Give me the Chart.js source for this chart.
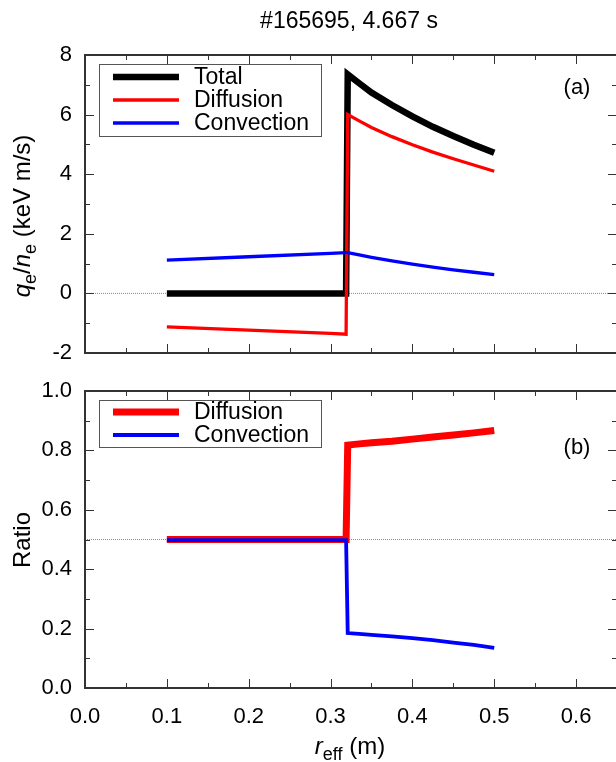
<!DOCTYPE html>
<html><head><meta charset="utf-8">
<script src="https://cdn.jsdelivr.net/npm/chart.js@4/dist/chart.umd.min.js"></script>
<style>
html,body{margin:0;padding:0;background:#fff;overflow:hidden;width:616px;height:762px;}
#wrap{position:relative;width:616px;height:762px;overflow:hidden;background:#fff;}
canvas{position:absolute;left:0;top:0;}
</style></head><body>
<div id="wrap"><canvas id="c1" width="620" height="762"></canvas><canvas id="c2" width="620" height="762"></canvas></div>
<script>
const FONT = '"Liberation Sans", Arial, Helvetica, sans-serif';

// ---- data ----
const rEff = [0.1, 0.2, 0.3, 0.319, 0.321, 0.335, 0.35, 0.375, 0.4, 0.425, 0.45, 0.475, 0.5];
const fluxTotal      = [0, 0, 0, 0, 7.35, 7.05, 6.74, 6.32, 5.94, 5.59, 5.28, 4.99, 4.72];
const fluxDiffusion  = [-1.12, -1.23, -1.34, -1.37, 6.00, 5.79, 5.57, 5.26, 4.99, 4.74, 4.52, 4.31, 4.10];
const fluxConvection = [1.12, 1.23, 1.34, 1.37, 1.37, 1.29, 1.21, 1.09, 0.98, 0.88, 0.79, 0.71, 0.63];
const ratioDiffusion  = [0.5, 0.5, 0.5, 0.5, 0.818, 0.822, 0.826, 0.831, 0.838, 0.845, 0.852, 0.859, 0.867];
const ratioConvection = [0.498, 0.498, 0.498, 0.498, 0.185, 0.182, 0.179, 0.174, 0.168, 0.161, 0.153, 0.145, 0.135];
const xRange = [0, 0.65];
const yRangeA = [-2, 8];
const yRangeB = [0, 1];
const titleText = '#165695, 4.667 s';

function pts(ys){ return rEff.map((r,i)=>({x:r, y:ys[i]})); }

function isMajor(v, unit){ const k = v/unit; return Math.abs(k - Math.round(k)) < 1e-6; }

const framePlugin = {
  id:'frame',
  afterDatasetsDraw(chart, args, o){
    const {ctx, chartArea:a, scales} = chart;
    ctx.save();
    ctx.strokeStyle = '#333'; ctx.lineWidth = 1;
    const ln=(x1,y1,x2,y2)=>{ctx.beginPath();ctx.moveTo(x1,y1);ctx.lineTo(x2,y2);ctx.stroke();};
    scales.x.ticks.forEach(t=>{
      const p = Math.round(scales.x.getPixelForValue(t.value))+0.5;
      const L = isMajor(t.value, o.xMajor) ? 9 : 5;
      ln(p, a.bottom, p, a.bottom-L); ln(p, a.top, p, a.top+L);
    });
    scales.y.ticks.forEach(t=>{
      const p = Math.round(scales.y.getPixelForValue(t.value))+0.5;
      const L = isMajor(t.value, o.yMajor) ? 9 : 5;
      ln(a.left, p, a.left+L, p); ln(a.right, p, a.right-L, p);
    });
    ctx.lineWidth = 2; ctx.strokeStyle = '#333';
    ctx.strokeRect(a.left, a.top, a.right-a.left, a.bottom-a.top);
    // legend
    const lg = o.legend;
    ctx.lineWidth = 1; ctx.strokeStyle = '#555'; ctx.fillStyle='#fff';
    ctx.fillRect(lg.box[0], lg.box[1], lg.box[2]-lg.box[0], lg.box[3]-lg.box[1]);
    ctx.strokeRect(lg.box[0]+0.5, lg.box[1]+0.5, lg.box[2]-lg.box[0], lg.box[3]-lg.box[1]);
    ctx.font = '23px ' + FONT; ctx.textAlign='left'; ctx.textBaseline='middle'; ctx.fillStyle='#000';
    lg.items.forEach((di,k)=>{
      const ds = chart.data.datasets[di]; const y = lg.rows[k];
      ctx.strokeStyle = ds.borderColor; ctx.lineWidth = ds.borderWidth; ctx.lineCap='butt';
      ln(113, y, 179, y);
      ctx.fillStyle='#000'; ctx.fillText(ds.label, 194, y+1);
    });
    ctx.font = '22px ' + FONT; ctx.textAlign='center'; ctx.fillText(o.tag[0], o.tag[1], o.tag[2]);
    ctx.restore();
  }
};

function drawRich(ctx, parts, cx, cy, rot, size){
  ctx.save(); ctx.translate(cx, cy); ctx.rotate(rot);
  const fontOf = p => (p.it?'italic ':'') + Math.round(p.sub? size*0.74 : size) + 'px ' + FONT;
  let tot = 0;
  const ws = parts.map(p=>{ ctx.font = fontOf(p); const w = ctx.measureText(p.t).width; tot += w; return w; });
  let x = -tot/2; const base = size*0.36;
  ctx.textAlign='left'; ctx.textBaseline='alphabetic'; ctx.fillStyle='#000';
  parts.forEach((p,i)=>{ ctx.font = fontOf(p); ctx.fillText(p.t, x, p.sub ? base + size*0.28 : base); x += ws[i]; });
  ctx.restore();
}

const textPlugin = {
  id:'texts',
  afterDraw(chart, args, o){
    const ctx = chart.ctx;
    (o.items||[]).forEach(it => drawRich(ctx, it.parts, it.x, it.y, it.rot||0, it.size));
  }
};

function baseOpts(padTop, padBottom, xHeight, yr, yStep, yMajor, yFmt, showX){
  return {
    responsive:false, animation:false, devicePixelRatio:1,
    elements:{point:{radius:0}, line:{tension:0, borderJoinStyle:'miter', borderCapStyle:'butt', fill:false}},
    layout:{padding:{top:padTop, right:3, bottom:padBottom, left:0}},
    plugins:{legend:{display:false}, tooltip:{enabled:false}, title:{display:false}},
    scales:{
      x:{type:'linear', min:xRange[0], max:xRange[1],
         ticks:{display:showX, stepSize:0.05, autoSkip:false, maxRotation:0, minRotation:0, padding:16,
                color:'#000', font:{family:FONT, size:22},
                callback:v=> isMajor(v,0.1) ? v.toFixed(1) : ''},
         grid:{display:false, drawTicks:false}, border:{display:false},
         afterFit(s){ s.height = xHeight; s.paddingLeft = 0; s.paddingRight = 0; }},
      y:{type:'linear', min:yr[0], max:yr[1],
         ticks:{stepSize:yStep, autoSkip:false, padding:13, color:'#000', font:{family:FONT, size:22},
                callback:v=> isMajor(v,yMajor) ? yFmt(v) : ''},
         grid:{display:false, drawTicks:false}, border:{display:false},
         afterFit(s){ s.width = 85; s.paddingTop = 0; s.paddingBottom = 0; }}
    }
  };
}

const o1 = baseOpts(55, 409, 0, yRangeA, 1, 2, v=>String(Math.round(v)), false);
o1.plugins.frame = {xMajor:0.1, yMajor:2, legend:{box:[99,64,321,136], rows:[77,100,123], items:[0,1,2]}, tag:['(a)',577,88]};
o1.plugins.texts = {items:[
  {parts:[{t:titleText}], x:349, y:20, size:23},
  {parts:[{t:'q',it:true},{t:'e',sub:true},{t:'/'},{t:'n',it:true},{t:'e',sub:true},{t:' (keV m/s)'}], x:21, y:216, rot:-Math.PI/2, size:24}
]};
new Chart(document.getElementById('c1'), {
  type:'line',
  data:{datasets:[
    {label:'Total', data:pts(fluxTotal), borderColor:'#000000', borderWidth:6.5, order:3},
    {label:'Diffusion', data:pts(fluxDiffusion), borderColor:'#ff0000', borderWidth:3.3, order:2},
    {label:'Convection', data:pts(fluxConvection), borderColor:'#0000ff', borderWidth:3.3, order:1},
    {label:'zero', data:[{x:xRange[0],y:0},{x:xRange[1],y:0}], borderColor:'#8a8a8a', borderWidth:1, borderDash:[1,1], order:10}
  ]},
  options:o1, plugins:[framePlugin, textPlugin]
});

const o2 = baseOpts(391, 0, 74, yRangeB, 0.1, 0.2, v=>v.toFixed(1), true);
o2.plugins.frame = {xMajor:0.1, yMajor:0.2, legend:{box:[99,400,321,447], rows:[412,435], items:[0,1]}, tag:['(b)',577,448]};
o2.plugins.texts = {items:[
  {parts:[{t:'Ratio'}], x:21, y:540, rot:-Math.PI/2, size:24},
  {parts:[{t:'r',it:true},{t:'eff',sub:true},{t:' (m)'}], x:350, y:745, size:24}
]};
new Chart(document.getElementById('c2'), {
  type:'line',
  data:{datasets:[
    {label:'Diffusion', data:pts(ratioDiffusion), borderColor:'#ff0000', borderWidth:7, order:2},
    {label:'Convection', data:pts(ratioConvection), borderColor:'#0000ff', borderWidth:3.8, order:1},
    {label:'half', data:[{x:xRange[0],y:0.5},{x:xRange[1],y:0.5}], borderColor:'#8a8a8a', borderWidth:1, borderDash:[1,1], order:10}
  ]},
  options:o2, plugins:[framePlugin, textPlugin]
});
</script>
</body></html>
